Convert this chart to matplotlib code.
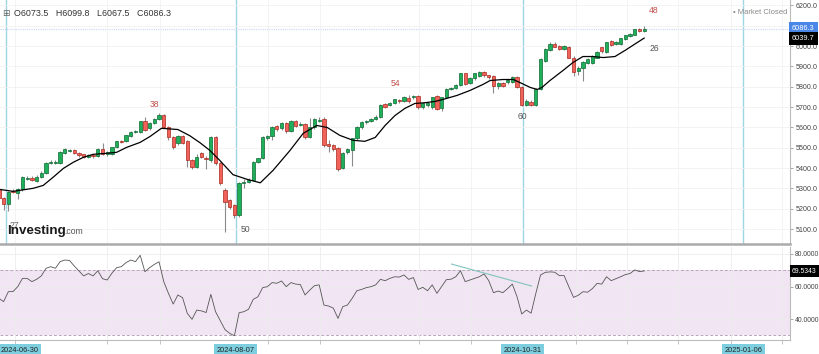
import matplotlib.pyplot as plt
from matplotlib.transforms import blended_transform_factory
import numpy as np

# daily candles (bar index 0 = first, partly hidden bar)
opens = [5296, 5252, 5222, 5288, 5276, 5296, 5348, 5350, 5335, 5355,
         5375, 5427, 5427, 5424, 5473, 5486, 5487, 5473, 5468, 5455,
         5466, 5458, 5492, 5470, 5468, 5502, 5533, 5532, 5556, 5579,
         5576, 5630, 5596, 5620, 5640, 5659, 5600, 5551, 5522, 5556,
         5532, 5438, 5404, 5473, 5448, 5438, 5551, 5424, 5291, 5242,
         5217, 5168, 5325, 5330, 5340, 5429, 5448, 5546, 5556, 5605,
         5596, 5620, 5581, 5630, 5613, 5615, 5551, 5600, 5633, 5640,
         5517, 5512, 5497, 5399, 5478, 5487, 5546, 5600, 5625, 5630,
         5640, 5650, 5714, 5709, 5718, 5733, 5728, 5743, 5748, 5753,
         5699, 5710, 5699, 5753, 5694, 5748, 5787, 5792, 5807, 5866,
         5817, 5841, 5851, 5871, 5856, 5851, 5802, 5817, 5822, 5822,
         5846, 5797, 5709, 5725, 5709, 5787, 5925, 5979, 6013, 6003,
         5988, 5998, 5944, 5876, 5891, 5915, 5915, 5944, 5994, 5969,
         6023, 6013, 6013, 6033, 6048, 6057, 6082, 6073.5]
closes = [5252, 5222, 5281, 5284, 5296, 5355, 5352, 5342, 5355, 5375,
          5424, 5431, 5430, 5478, 5492, 5489, 5473, 5463, 5455, 5465,
          5458, 5492, 5468, 5478, 5502, 5532, 5530, 5561, 5576, 5582,
          5630, 5586, 5620, 5640, 5659, 5600, 5551, 5502, 5556, 5522,
          5438, 5404, 5453, 5453, 5443, 5551, 5424, 5325, 5232, 5207,
          5168, 5325, 5330, 5340, 5429, 5448, 5551, 5556, 5600, 5591,
          5620, 5581, 5630, 5605, 5617, 5551, 5600, 5640, 5637, 5512,
          5507, 5492, 5394, 5473, 5492, 5546, 5600, 5625, 5630, 5640,
          5654, 5709, 5699, 5718, 5738, 5728, 5748, 5728, 5753, 5699,
          5718, 5718, 5748, 5689, 5748, 5787, 5792, 5807, 5866, 5812,
          5841, 5866, 5871, 5856, 5846, 5802, 5817, 5805, 5836, 5846,
          5797, 5709, 5728, 5712, 5787, 5935, 5984, 6013, 5998, 5984,
          6000, 5944, 5871, 5895, 5920, 5935, 5954, 5969, 5974, 6018,
          6008, 6018, 6038, 6053, 6062, 6082, 6077, 6086.3]
highs = [5305, 5260, 5290, 5296, 5300, 5360, 5360, 5362, 5365, 5385,
         5430, 5440, 5438, 5482, 5500, 5495, 5492, 5480, 5472, 5470,
         5472, 5500, 5522, 5484, 5506, 5536, 5540, 5565, 5582, 5588,
         5634, 5654, 5625, 5645, 5669, 5664, 5606, 5556, 5562, 5562,
         5540, 5445, 5470, 5478, 5458, 5556, 5556, 5430, 5300, 5250,
         5225, 5330, 5345, 5350, 5434, 5452, 5556, 5562, 5606, 5612,
         5625, 5626, 5636, 5636, 5625, 5620, 5645, 5645, 5650, 5650,
         5540, 5518, 5502, 5478, 5498, 5550, 5605, 5630, 5636, 5645,
         5660, 5714, 5720, 5723, 5742, 5740, 5753, 5760, 5762, 5760,
         5722, 5725, 5752, 5760, 5752, 5792, 5797, 5812, 5870, 5870,
         5846, 5870, 5878, 5876, 5860, 5856, 5822, 5822, 5840, 5851,
         5851, 5802, 5740, 5735, 5792, 5940, 5989, 6020, 6020, 6008,
         6005, 6003, 5950, 5900, 5925, 5940, 5958, 5974, 5998, 6022,
         6028, 6023, 6042, 6057, 6066, 6086, 6088, 6099.8]
lows = [5245, 5193, 5188, 5276, 5250, 5290, 5340, 5335, 5330, 5350,
        5370, 5418, 5420, 5420, 5468, 5478, 5468, 5455, 5448, 5450,
        5452, 5455, 5465, 5462, 5465, 5498, 5524, 5528, 5552, 5572,
        5572, 5582, 5590, 5615, 5636, 5596, 5540, 5495, 5515, 5518,
        5404, 5398, 5400, 5448, 5395, 5430, 5415, 5318, 5085, 5200,
        5153, 5160, 5300, 5325, 5335, 5424, 5444, 5540, 5540, 5585,
        5590, 5575, 5576, 5600, 5605, 5545, 5546, 5595, 5625, 5505,
        5480, 5485, 5385, 5395, 5470, 5410, 5540, 5595, 5618, 5625,
        5636, 5645, 5694, 5704, 5714, 5722, 5724, 5722, 5740, 5690,
        5690, 5700, 5692, 5684, 5680, 5744, 5782, 5787, 5802, 5808,
        5812, 5836, 5846, 5850, 5840, 5768, 5790, 5797, 5815, 5817,
        5792, 5704, 5704, 5705, 5704, 5782, 5920, 5974, 5994, 5980,
        5982, 5940, 5855, 5860, 5831, 5910, 5910, 5940, 5968, 5964,
        6003, 6008, 6008, 6028, 6043, 6053, 6072, 6067.5]

# moving average (black line), sampled along the picture
ma_idx = [0, 3, 4.5, 7.3, 9.4, 11.5, 13.7, 15.8, 17.9, 20, 22.9, 25, 27.1, 30,
          32.1, 34.5, 38, 40.5, 42.7, 44.8, 46.9, 49.7, 52.7, 55.5, 58.2, 61.8,
          64.6, 67.5, 69.7, 72.4, 75.2, 77.7, 79.9, 82, 84.1, 86.2, 88.3, 90.5,
          92.6, 94.3, 97.3, 100, 102.8, 104.3, 107, 109.2, 111, 112.8, 114.3,
          115.3, 117, 119.8, 121.9, 124, 126.1, 128.3, 130.8, 133, 135, 137]
ma_val = [5296, 5286, 5291, 5301, 5315, 5355, 5399, 5429, 5453, 5468, 5473,
          5478, 5502, 5527, 5556, 5596, 5590, 5560, 5525, 5487, 5438, 5368,
          5345, 5328, 5389, 5487, 5571, 5610, 5600, 5561, 5537, 5532, 5551,
          5610, 5659, 5694, 5718, 5722, 5728, 5738, 5758, 5782, 5812, 5831,
          5836, 5836, 5817, 5797, 5787, 5797, 5831, 5881, 5920, 5949, 5949,
          5944, 5949, 5980, 6010, 6039.7]

# RSI, one value per bar
rsi = [52.7, 50.7, 56.8, 56.9, 59.9, 65.0, 65.0, 63.0, 64.4, 66.5,
       71.2, 72.2, 71.2, 75.3, 76.3, 76.0, 72.6, 69.5, 66.5, 68.0,
       66.5, 69.7, 64.8, 64.0, 68.2, 71.6, 72.2, 74.7, 76.3, 75.3,
       79.2, 69.1, 71.6, 73.6, 75.2, 63.0, 55.8, 49.2, 54.8, 53.1,
       43.5, 39.8, 45.5, 45.0, 44.0, 55.2, 44.5, 39.0, 33.5, 31.2,
       29.7, 43.9, 44.5, 46.0, 52.1, 53.7, 59.3, 59.9, 62.4, 62.0,
       63.4, 59.9, 62.4, 61.5, 61.2, 54.8, 57.8, 60.5, 61.0, 48.6,
       48.0, 46.7, 40.4, 47.6, 48.6, 52.7, 57.4, 58.2, 59.3, 59.9,
       61.0, 64.4, 63.6, 65.0, 66.0, 65.8, 67.1, 64.4, 65.5, 58.2,
       59.5, 57.4, 61.0, 55.8, 60.0, 64.2, 64.5, 66.0, 69.7, 63.0,
       64.0, 65.0, 66.0, 67.7, 63.6, 56.2, 57.2, 56.2, 58.7, 61.5,
       53.8, 43.1, 45.5, 43.6, 55.8, 67.1, 68.7, 69.0, 68.8, 66.7,
       66.7, 59.9, 53.3, 54.6, 56.8, 56.5, 58.7, 61.9, 61.5, 66.0,
       63.6, 64.8, 66.0, 67.3, 68.0, 70.2, 69.2, 69.5343]

trend_idx = [96.1, 113.1]
trend_rsi = [73.8, 60.3]

price_ticks = [5100, 5200, 5300, 5400, 5500, 5600, 5700, 5800, 5900, 6000, 6100, 6200]
rsi_ticks = [40, 60, 80]
grid_pos = [3.4, 23, 34.2, 57.1, 68.2, 89.2, 100.2, 122.5, 133.4, 144.2, 155.4, 166.3]

date_labels = ['2024-06-30', '2024-08-07', '2024-10-31', '2025-01-06']
date_pos = [1.5, 50.3, 111.2, 158.0]

count_labels = ['27', '50', '38', '54', '60', '48', '26']
count_pos = [3.2, 52.3, 33.1, 84.2, 111.1, 138.9, 139.2]
count_price = [5120, 5099, 5713, 5817, 5652, 6175, 5989]
count_color = ['#666666', '#555555', '#c0504d', '#c0504d', '#555555', '#c0504d', '#555555']

last_price = 6086.3
last_ma = 6039.7
last_rsi = 69.5343

font = ['Liberation Sans', 'DejaVu Sans']
plt.rcParams['font.family'] = font

fig = plt.figure(figsize=(8.2, 3.54), dpi=100)
ax = fig.add_axes([0, 1 - 244 / 354, 790 / 820, 244 / 354])
ax2 = fig.add_axes([0, 1 - 340 / 354, 790 / 820, 93 / 354])

xlim = (0.234, 167.96)
idx = np.arange(len(opens))
o = np.array(opens)
c = np.array(closes)
up = c >= o

# main panel
ax.vlines(idx, lows, highs, color='#8a8a8a', lw=0.8, zorder=2)
ax.bar(idx[up], (c - o)[up], bottom=o[up], width=0.7,
       color='#1fae5a', edgecolor='#0d6a33', lw=0.5, zorder=3)
ax.bar(idx[~up], (c - o)[~up], bottom=o[~up], width=0.7,
       color='#f0625a', edgecolor='#a8281f', lw=0.5, zorder=3)
ax.plot(ma_idx, ma_val, color='black', lw=0.9, zorder=4)

for p in date_pos:
    ax.axvline(p, color='#9fd6e4', lw=1.0, zorder=1)
ax.axhline(last_price, color='#c5d4f2', lw=0.8, ls=(0, (1, 1)), zorder=1)

for t, x, y, col in zip(count_labels, count_pos, count_price, count_color):
    ax.text(x, y, t, color=col, fontsize=6.2, ha='center', va='center', zorder=5)

ax.set_xlim(*xlim)
ax.set_ylim(5027, 6227)
ax.set_yticks(price_ticks)
ax.set_xticks(grid_pos)
ax.grid(True, color='#f1f1f1', lw=0.6, zorder=0)
ax.yaxis.tick_right()
ax.tick_params(axis='y', length=2.5, width=0.6, color='#999999', labelsize=5.1,
               labelcolor='#444444', pad=1.5)
ax.tick_params(axis='x', length=0, labelbottom=False)
# the 6100 label sits under the last-price box, as in the original
ax.set_yticklabels(['' if v == 6100 else f'{v:.1f}' for v in price_ticks])
for s in ['top', 'left']:
    ax.spines[s].set_visible(False)
ax.spines['right'].set_color('#bbbbbb')
ax.spines['bottom'].set_color('#aaaaaa')
ax.spines['bottom'].set_linewidth(1.8)

tr = blended_transform_factory(ax.transAxes, ax.transData)
for val, fc in [(last_price, '#4a86e8'), (last_ma, 'black')]:
    t = ax.text(1.0025, val, f'{val:.1f}', transform=tr, fontsize=5.3, color='white',
                va='center', ha='left', zorder=10,
                bbox=dict(boxstyle='square,pad=0.4', fc=fc, ec='none'))
    t.set_clip_on(False)

# header and watermark
fig.text(2 / 820, 1 - 13 / 354, '\u229e', fontsize=6.5, color='#666666', va='center',
         family=['DejaVu Sans'])
fig.text(14 / 820, 1 - 13 / 354, 'O6073.5   H6099.8   L6067.5   C6086.3',
         fontsize=6.4, color='#333333', va='center')
fig.text(787 / 820, 1 - 12 / 354, '\u2022 Market Closed', fontsize=5.5,
         color='#8a8a8a', va='center', ha='right')
fig.text(7 / 820, 1 - 234 / 354, 'Investing', fontsize=9.6, fontweight='bold',
         color='#1a1a1a', va='baseline', ha='left')
fig.text(64 / 820, 1 - 234 / 354, '.com', fontsize=6.2, color='#555555',
         va='baseline', ha='left')

# RSI panel
ax2.fill_between(xlim, 30, 70, color='#f1e5f3', lw=0, zorder=0)
ax2.axhline(70, color='#b9a6b9', lw=0.7, ls=(0, (3, 2)), zorder=1)
ax2.axhline(30, color='#b9a6b9', lw=0.7, ls=(0, (3, 2)), zorder=1)
ax2.plot(idx, rsi, color='#555555', lw=0.6, zorder=3)
ax2.plot(trend_idx, trend_rsi, color='#80c4bc', lw=0.8, zorder=3)
ax2.set_xlim(*xlim)
ax2.set_ylim(27.1, 84.3)
ax2.set_yticks(rsi_ticks)
ax2.set_yticklabels([f'{v:.4f}' for v in rsi_ticks])
ax2.set_xticks(grid_pos)
ax2.set_xticklabels([])
ax2.grid(True, color='#ececec', lw=0.6, zorder=0)
ax2.yaxis.tick_right()
ax2.tick_params(axis='y', length=2.5, width=0.6, color='#999999', labelsize=4.9,
                labelcolor='#444444', pad=1.0)
ax2.tick_params(axis='x', length=3, width=0.6, color='#bbbbbb')
ax2.spines['top'].set_visible(False)
ax2.spines['left'].set_visible(False)
ax2.spines['right'].set_color('#bbbbbb')
ax2.spines['bottom'].set_color('#bbbbbb')

tr2 = blended_transform_factory(ax2.transAxes, ax2.transData)
t = ax2.text(1.0025, last_rsi, f'{last_rsi:.4f}', transform=tr2, fontsize=4.9,
             color='white', va='center', ha='left', zorder=10,
             bbox=dict(boxstyle='square,pad=0.35', fc='black', ec='none'))
t.set_clip_on(False)

trx = blended_transform_factory(ax2.transData, ax2.transAxes)
for k, (lab, p) in enumerate(zip(date_labels, date_pos)):
    x = xlim[0] + 0.1 if k == 0 else p
    ax2.text(x, -0.07, lab, transform=trx, fontsize=5.3, color='#222222',
             ha='left' if k == 0 else 'center', va='top', zorder=6,
             bbox=dict(boxstyle='square,pad=0.35', fc='#7dcfdf', ec='none'))

fig.savefig('out.png', dpi=100)
